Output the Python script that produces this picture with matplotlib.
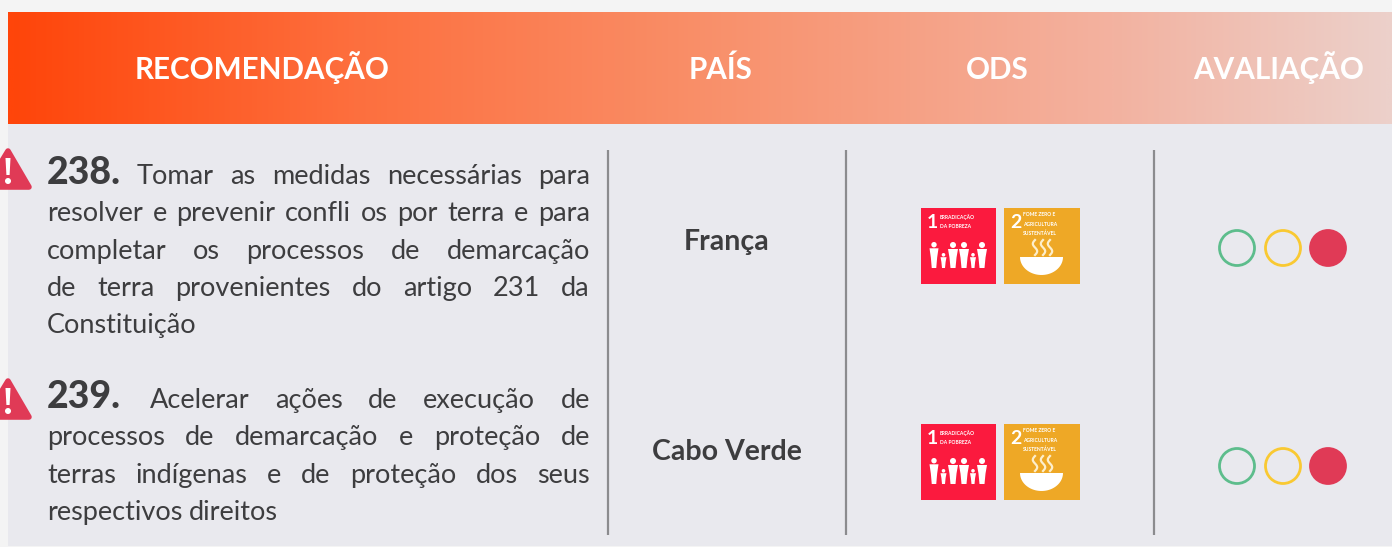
import matplotlib
matplotlib.use("Agg")
import matplotlib.pyplot as plt
import numpy as np
from matplotlib.colors import LinearSegmentedColormap
from matplotlib.patches import Circle, Polygon, Rectangle

plt.rcParams['font.family'] = ['Lato', 'DejaVu Sans']

# table content
headers = ["RECOMENDAÇÃO", "PAÍS", "ODS", "AVALIAÇÃO"]
numbers = ["238.", "239."]
rec_lines = [
    ["Tomar as medidas necessárias para",
     "resolver e prevenir confli os por terra e para",
     "completar os processos de demarcação",
     "de terra provenientes do artigo 231 da",
     "Constituição"],
    ["Acelerar ações de execução de",
     "processos de demarcação e proteção de",
     "terras indígenas e de proteção dos seus",
     "respectivos direitos"],
]
countries = ["França", "Cabo Verde"]
ods_1 = ["ERRADICAÇÃO", "DA POBREZA"]
ods_2 = ["FOME ZERO E", "AGRICULTURA", "SUSTENTÁVEL"]
ratings = ["vermelho", "vermelho"]

TXT = '#3d3d3f'
RED = '#e03a56'
BODY = 19.5

fig = plt.figure(figsize=(13.92, 5.47), dpi=100, facecolor='#f4f4f4')
ax = fig.add_axes([0, 0, 1, 1])
ax.set_xlim(0, 1392)
ax.set_ylim(547, 0)
ax.axis('off')

# panel and header gradient
ax.add_patch(Rectangle((8, 124), 1384, 422, fc='#e9e9ee', ec='none', zorder=0))
grad = LinearSegmentedColormap.from_list(
    'head', [(0, '#ff450a'), (0.25, '#fd6f3e'), (0.5, '#f98f69'), (0.8, '#f3b2a0'), (1, '#ecd0ca')])
ax.imshow(np.linspace(0, 1, 600).reshape(1, -1), cmap=grad, extent=(8, 1392, 124, 12),
          aspect='auto', zorder=1)
ax.set_xlim(0, 1392)
ax.set_ylim(547, 0)

for label, x in zip(headers, [262, 721, 997, 1279]):
    ax.text(x, 79, label, color='white', fontsize=21.3, fontweight='bold', ha='center', va='baseline', zorder=2)

# column separators
for x in [608, 846, 1154]:
    ax.plot([x, x], [150, 535], color='#8b8b8e', lw=1.6, zorder=2, solid_capstyle='butt')

fig.canvas.draw()
renderer = fig.canvas.get_renderer()


def text_width(s, **kw):
    t = ax.text(0, 0, s, **kw)
    w = t.get_window_extent(renderer).width
    t.remove()
    return w


def justified(line, x0, x1, y, justify=True):
    words = line.split(' ')
    widths = [text_width(w, fontsize=BODY) for w in words]
    gap = (x1 - x0 - sum(widths)) / max(len(words) - 1, 1) if justify else text_width(' ', fontsize=BODY)
    x = x0
    for word, w in zip(words, widths):
        ax.text(x, y, word, fontsize=BODY, color=TXT, ha='left', va='baseline', zorder=3)
        x += w + gap


def warning(y):
    # rounded triangle with exclamation mark
    ax.add_patch(Polygon([[8, y + 4], [-14, y + 40], [29, y + 40]], closed=True, fc=RED, ec=RED,
                         lw=4, joinstyle='round', zorder=3))
    ax.add_patch(Polygon([[5.5, y + 11], [10.5, y + 11], [9.6, y + 28], [6.4, y + 28]], closed=True,
                         fc='white', ec='none', zorder=4))
    ax.add_patch(Circle((8, y + 34), 3, fc='white', ec='none', zorder=4))


def person(x, base, h, w):
    ax.add_patch(Circle((x, base - h + w * 0.3), w * 0.3, fc='white', ec='none', zorder=4))
    ax.add_patch(Polygon([[x - w / 2, base - h + w * 0.7], [x + w / 2, base - h + w * 0.7],
                          [x + w * 0.35, base - h * 0.4], [x + w * 0.25, base],
                          [x - w * 0.25, base], [x - w * 0.35, base - h * 0.4]],
                         closed=True, fc='white', ec='none', zorder=4))


def ods_icons(y):
    ax.add_patch(Rectangle((921, y), 75, 76, fc='#fb1a3e', ec='none', zorder=3))
    ax.add_patch(Rectangle((1004, y), 76, 76, fc='#eea826', ec='none', zorder=3))
    ax.text(932, y + 14, "1", color='white', fontsize=14, fontweight='bold', ha='center', va='center', zorder=4)
    for i, s in enumerate(ods_1):
        ax.text(940, y + 9 + i * 9, s, color='white', fontsize=3.6, fontweight='bold', ha='left', va='center', zorder=4)
    for px, h, w in [(934, 26, 9), (943.5, 15, 6), (953, 26, 10), (964, 26, 10), (973, 15, 6), (982, 26, 10)]:
        person(px, y + 60, h, w)

    ax.text(1016, y + 15, "2", color='white', fontsize=14, fontweight='bold', ha='center', va='center', zorder=4)
    for i, s in enumerate(ods_2):
        ax.text(1023, y + 7 + i * 9, s, color='white', fontsize=3.6, fontweight='bold', ha='left', va='center', zorder=4)
    # bowl
    a = np.linspace(0, np.pi, 40)
    ax.add_patch(Polygon(np.column_stack([1041.5 + 21.5 * np.cos(a), y + 49 + 18 * np.sin(a)]), closed=True,
                         fc='white', ec='none', zorder=4))
    for sx in [1035, 1043, 1050]:
        t = np.linspace(0, 1, 20)
        ax.plot(sx + 2.2 * np.sin(t * 2 * np.pi), y + 47 - t * 15, color='#fdeecb', lw=1.6, zorder=4)


def lights(y, rating):
    fills = {'verde': '#5dbd8c', 'amarelo': '#f9c932', 'vermelho': RED}
    for x, name in zip([1237, 1283, 1328], ['verde', 'amarelo', 'vermelho']):
        on = name == rating
        ax.add_patch(Circle((x, y), 17.5, fc=fills[name] if on else 'none', ec=fills[name], lw=2, zorder=3))


warn_tops = [147, 377]
row_first_base = [184, 408]
for i, lines in enumerate(rec_lines):
    base = row_first_base[i]
    warning(warn_tops[i])
    ax.text(47, base, numbers[i], fontsize=27, fontweight='black', color=TXT, ha='left', va='baseline', zorder=3)
    first_x = [137, 150][i]
    for j, line in enumerate(lines):
        x0 = first_x if j == 0 else 47
        justified(line, x0, 590, base + j * 37.3, justify=j < len(lines) - 1)

for name, y in zip(countries, [250, 460]):
    ax.text(726.5, y, name, fontsize=20.5, fontweight='bold', color=TXT, ha='center', va='baseline', zorder=3)

ods_icons(208)
ods_icons(424)
lights(248, ratings[0])
lights(466, ratings[1])

fig.savefig('out.png', dpi=100, facecolor=fig.get_facecolor())
